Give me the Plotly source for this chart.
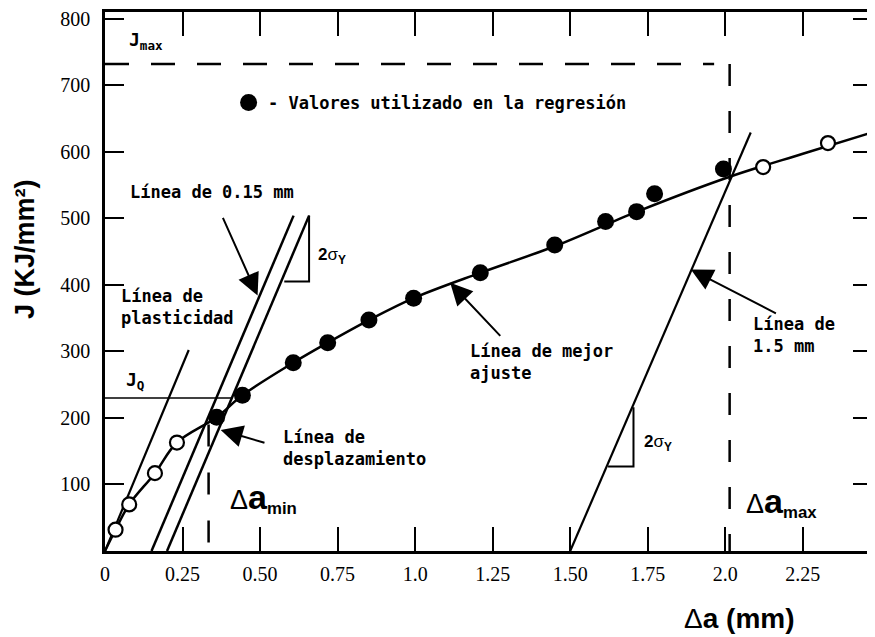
import plotly.graph_objects as go

# ---------------- data ----------------
# open circles (values not used in the regression)
open_da = [0.034, 0.078, 0.161, 0.232, 2.122, 2.331]
open_J = [32, 70, 117, 163, 577, 613]

# filled circles (values used in the regression)
reg_da = [0.360, 0.443, 0.607, 0.718, 0.851, 0.995, 1.21, 1.45, 1.614, 1.714, 1.772, 1.994]
reg_J = [201, 234, 283, 313, 347, 380, 418, 460, 495, 510, 537, 574]

# best-fit line (vertices)
fit_da = [0.0, 0.034, 0.078, 0.161, 0.232, 0.360, 0.443, 0.607, 0.718, 0.851, 0.995,
          1.21, 1.45, 1.716, 2.012, 2.25, 2.473]
fit_J = [0, 32, 70, 117, 163, 201, 234, 283, 313, 347, 380,
         418, 458, 510, 562, 597, 629]

# construction lines
plast_da = [0.0, 0.270]
plast_J = [0, 302]
off015_da = [0.150, 0.608]
off015_J = [0, 504]
off020_da = [0.200, 0.658]
off020_J = [0, 504]
off150_da = [1.500, 2.082]
off150_J = [0, 629]

# slope triangles
tri_up_da = [0.658, 0.658, 0.578]
tri_up_J = [504, 405, 405]
tri_lo_da = [1.704, 1.704, 1.622]
tri_lo_J = [216, 127, 127]

# limits
J_max = 732
J_Q = 230
da_max = 2.014
da_min = 0.334
da_jq_end = 0.409
da_jmax_end = 1.964
da_min_top = 190

# legend marker
legend_da = [0.463]
legend_J = [674]

# axes
x_tickvals = [0, 0.25, 0.50, 0.75, 1.0, 1.25, 1.50, 1.75, 2.0, 2.25]
x_ticktext = ["0", "0.25", "0.50", "0.75", "1.0", "1.25", "1.50", "1.75", "2.0", "2.25"]
y_tickvals = [100, 200, 300, 400, 500, 600, 700, 800]
y_ticktext = ["100", "200", "300", "400", "500", "600", "700", "800"]

# ---------------- figure ----------------
BLK = "black"
fig = go.Figure()

def line(x, y, w=2.5, dash=None, shape="linear"):
    fig.add_trace(go.Scatter(x=x, y=y, mode="lines",
                             line=dict(color=BLK, width=w, dash=dash, shape=shape),
                             hoverinfo="skip", cliponaxis=False))

line(fit_da, fit_J, 2.5, shape="spline")
line(plast_da, plast_J, 2.2)
line(off015_da, off015_J, 2.5)
line(off020_da, off020_J, 2.5)
line(off150_da, off150_J, 2.2)
line(tri_up_da, tri_up_J, 2)
line(tri_lo_da, tri_lo_J, 2)
line([0, da_jmax_end], [J_max, J_max], 2.5, dash="24px,22px")
line([da_max, da_max], [J_max, 0], 2.5, dash="22px,25px")
line([da_min, da_min], [da_min_top, 0], 2.5, dash="22px,26px")
line([0, da_jq_end], [J_Q, J_Q], 1.5)

fig.add_trace(go.Scatter(x=open_da, y=open_J, mode="markers",
                         marker=dict(size=14, color="white", line=dict(color=BLK, width=2.2)),
                         hoverinfo="skip", cliponaxis=False))
fig.add_trace(go.Scatter(x=reg_da + legend_da, y=reg_J + legend_J, mode="markers",
                         marker=dict(size=17, color=BLK, line=dict(width=0)),
                         hoverinfo="skip", cliponaxis=False))

MONO = "DejaVu Sans Mono"
SANS = "Liberation Sans"
anns = []

def txt(x, y, s, size=17, family=MONO, xanchor="left", **kw):
    anns.append(dict(x=x, y=y, xref="x", yref="y", text=s, showarrow=False,
                     xanchor=xanchor, yanchor="middle", align="left",
                     font=dict(family=family, size=size, color=BLK), **kw))

def arrow(x, y, ax, ay):
    anns.append(dict(x=x, y=y, ax=ax, ay=ay, xref="x", yref="y", axref="x", ayref="y",
                     text="", showarrow=True, arrowhead=2, arrowsize=2.2, arrowwidth=2,
                     arrowcolor=BLK, standoff=0, startstandoff=0))

txt(0.072, 767, "<b>J<sub>max</sub></b>", size=18)
txt(0.062, 256, "<b>J<sub>Q</sub></b>", size=18)
txt(0.520, 674, "<b>- Valores utilizado en la regresión</b>")
txt(0.075, 540, "<b>Línea de 0.15 mm</b>")
txt(0.044, 367, "<b>Línea de<br>plasticidad</b>")
txt(0.569, 155, "<b>Línea de<br>desplazamiento</b>")
txt(1.170, 284, "<b>Línea de mejor<br>ajuste</b>")
txt(2.082, 324, "<b>Línea de<br>1.5 mm</b>")
txt(0.680, 444, "<b>2</b>σ<sub><b>Y</b></sub>", size=17, family=SANS)
txt(1.730, 162, "<b>2</b>σ<sub><b>Y</b></sub>", size=17, family=SANS)
txt(0.397, 80, "<span style='font-size:27px'>Δ</span><b><span style='font-size:34px'>a</span></b><sub><b>min</b></sub>",
    size=24, family=SANS)
txt(2.061, 74, "<span style='font-size:27px'>Δ</span><b><span style='font-size:34px'>a</span></b><sub><b>max</b></sub>",
    size=24, family=SANS)

arrow(0.492, 384, 0.378, 503)
arrow(0.373, 182, 0.519, 162)
arrow(1.113, 403, 1.279, 321)
arrow(1.889, 423, 2.168, 356)

# axis titles
anns.append(dict(x=-0.1045, y=0.56, xref="paper", yref="paper", showarrow=False,
                 text="<b>J (KJ/mm²)</b>", textangle=-90,
                 xanchor="center", yanchor="middle",
                 font=dict(family=SANS, size=27, color=BLK)))
anns.append(dict(x=0.827, y=-0.125, xref="paper", yref="paper", showarrow=False,
                 text="Δ<b>a (mm)</b>", xanchor="center", yanchor="middle",
                 font=dict(family=SANS, size=28, color=BLK)))

# the page adds an 8 px body margin, so the figure is offset by 8 px
fig.update_layout(
    width=867, height=629,
    margin=dict(l=97, r=0, t=1, b=86),
    plot_bgcolor="white", paper_bgcolor="white",
    showlegend=False,
    annotations=anns,
    xaxis=dict(range=[0, 2.473], tickvals=x_tickvals, ticktext=x_ticktext,
               ticks="inside", ticklen=24, tickwidth=2.2, tickcolor=BLK,
               showline=True, linewidth=2.5, linecolor=BLK, mirror="ticks",
               showgrid=False, zeroline=False,
               tickfont=dict(family="Liberation Serif", size=20, color=BLK),
               ticklabelstandoff=3, ticklabeloverflow="allow"),
    yaxis=dict(range=[0, 810], tickvals=y_tickvals, ticktext=y_ticktext,
               ticks="inside", ticklen=19, tickwidth=2.2, tickcolor=BLK,
               showline=True, linewidth=2.5, linecolor=BLK, mirror="ticks",
               showgrid=False, zeroline=False,
               tickfont=dict(family="Liberation Serif", size=20, color=BLK),
               ticklabelstandoff=8, ticklabeloverflow="allow"),
)

fig.write_html("out.html")
